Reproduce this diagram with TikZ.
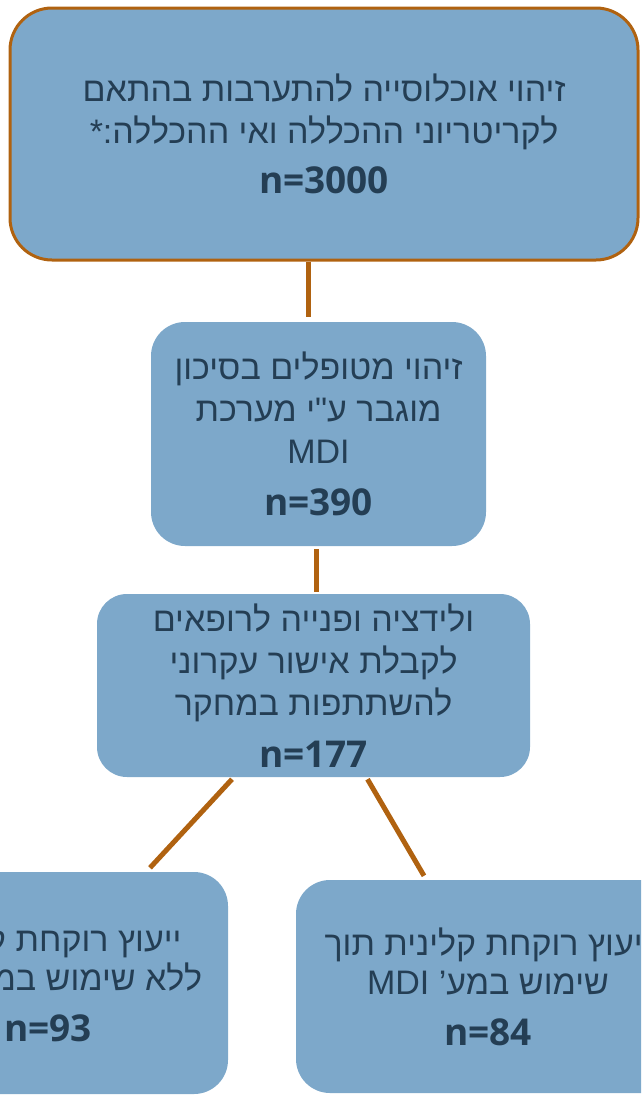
\documentclass[tikz,border=0pt]{standalone}
\usepackage{fontspec}
\usepackage{tikz}
\usetikzlibrary{positioning}
\TeXXeTstate=1
\newfontfamily\hebfont[Script=Hebrew]{Liberation Sans}
\newfontfamily\numfont{Open Sans}
\definecolor{boxblue}{RGB}{125,168,202}
\definecolor{inkblue}{RGB}{36,62,84}
\definecolor{linkbrown}{RGB}{176,98,16}
\newcommand{\cnt}[1]{{\numfont\bfseries\fontsize{37}{42}\selectfont #1}}
\tikzset{
  stage/.style={rectangle, rounded corners=34pt, fill=boxblue, text=inkblue,
    align=center, inner sep=0pt, font=\hebfont\fontsize{34}{42}\selectfont},
  leaf/.style={stage, font=\hebfont\fontsize{34}{39}\selectfont},
  link/.style={draw=linkbrown, line width=5pt}
}

\begin{document}
\begin{tikzpicture}[x=1pt, y=-1pt, node distance=250pt, on grid]
    \useasboundingbox (0,0) rectangle (641,1095);
    \clip (0,0) rectangle (641,1095);
        \node[stage, draw=linkbrown, line width=3pt, rounded corners=42pt,
              minimum width=628pt, minimum height=252pt] (pop) at (324,134)
              {\beginR זיהוי אוכלוסייה להתערבות בהתאם\endR\\
               \beginR לקריטריוני ההכללה ואי ההכללה:*\endR\\[8pt]
               \cnt{n=3000}};
        \node[stage, minimum width=335pt, minimum height=224pt]
              (risk) [below=300pt of pop, xshift=-5.5pt]
              {\beginR זיהוי מטופלים בסיכון\endR\\
               \beginR מוגבר ע"י מערכת\endR\\
               MDI\\[10pt]
               \cnt{n=390}};
        \node[stage, rounded corners=30pt, minimum width=433pt, minimum height=183pt]
              (valid) [below=251.5pt of risk, xshift=-5pt]
              {\beginR ולידציה ופנייה לרופאים\endR\\
               \beginR לקבלת אישור עקרוני\endR\\
               \beginR להשתתפות במחקר\endR\\[10pt]
               \cnt{n=177}};
        \node[leaf, minimum width=360pt, minimum height=222pt]
              (nomdi) [below=297.5pt of valid, xshift=-265.5pt]
              {\beginR ייעוץ רוקחת קלינית\endR\\
               \beginR ללא שימוש במע’ \beginL MDI\endL\endR\\[12pt]
               \cnt{n=93}};
        \node[leaf, minimum width=384pt, minimum height=213pt]
              (mdi) [below=301pt of valid, xshift=174.5pt]
              {\beginR ייעוץ רוקחת קלינית תוך\endR\\
               \beginR שימוש במע’ \beginL MDI\endL\endR\\[12pt]
               \cnt{n=84}};

        \draw[link, shorten >=5pt] ([xshift=-16pt]pop.south) -- ([xshift=-10.5pt]risk.north);
        \draw[link, shorten <=3pt, shorten >=2pt] ([xshift=-2.5pt]risk.south) -- ([xshift=2.5pt]valid.north);
        \draw[link] ([xshift=-81.5pt, yshift=-2pt]valid.south) -- ([xshift=102pt, yshift=4pt]nomdi.north);
        \draw[link] ([xshift=54pt, yshift=-2pt]valid.south) -- ([xshift=-64pt, yshift=4pt]mdi.north);
\end{tikzpicture}
\end{document}
